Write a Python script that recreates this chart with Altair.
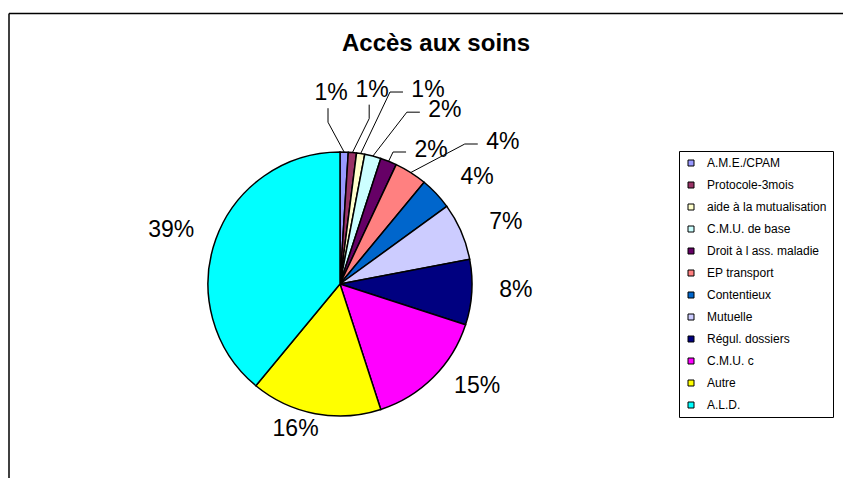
import math
import altair as alt
import pandas as pd

# ---- data ----
categories = ["A.M.E./CPAM", "Protocole-3mois", "aide à la mutualisation", "C.M.U. de base",
              "Droit à l ass. maladie", "EP transport", "Contentieux", "Mutuelle",
              "Régul. dossiers", "C.M.U. c", "Autre", "A.L.D."]
values = [1, 1, 1, 2, 2, 4, 4, 7, 8, 15, 16, 39]

# ---- style / layout ----
colors = ["#9999FF", "#993366", "#FFFFCC", "#CCFFFF", "#660066", "#FF8080",
          "#0066CC", "#CCCCFF", "#000080", "#FF00FF", "#FFFF00", "#00FFFF"]
label_turn = [-4.5, 4.0, 15.4, 16.7, 12.6, 16.5, 5.2, 2.9, -1.6, -8.3, 6.2, -2.2]
label_r = [191, 197, 213, 203, 162, 216, 174, 177, 176, 171, 152, 177]
leader = ["below", "below", "left", "left", "left", "left", "", "", "", "", "", ""]

W, H = 835, 470
CX, CY = 332, 276   # pie centre in plot pixels
R = 132

df = pd.DataFrame({"cat": categories, "val": values, "idx": range(len(values))})
df["label"] = [f"{v}%" for v in values]
cum = df["val"].cumsum()
total = df["val"].sum()
df["mid"] = (cum - df["val"] / 2) / total * 360.0
ang = [math.radians(m + t) for m, t in zip(df["mid"], label_turn)]
df["lx"] = [r * math.sin(a) for r, a in zip(label_r, ang)]
df["ly"] = [r * math.cos(a) for r, a in zip(label_r, ang)]

rows = []
for i, row in df.iterrows():
    style = leader[i]
    if not style:
        continue
    m = math.radians(row["mid"])
    ex, ey = R * math.sin(m), R * math.cos(m)
    if style == "below":
        ax_, ay_ = row["lx"] - 3, row["ly"] - 15
        bx, by = row["lx"] - 3, row["ly"] - 29
    else:
        ax_, ay_ = row["lx"] - 25, row["ly"] - 2
        bx, by = row["lx"] - 38, row["ly"] - 2
    for o, (px, py) in enumerate([(ax_, ay_), (bx, by), (ex, ey)]):
        rows.append({"cat": row["cat"], "o": o, "x": px, "y": py})
lead_df = pd.DataFrame(rows)

xscale = alt.Scale(domain=[-CX, W - CX], nice=False, zero=False)
yscale = alt.Scale(domain=[-(H - CY), CY], nice=False, zero=False)

pie = alt.Chart(df).mark_arc(outerRadius=R, stroke="black", strokeWidth=1.5).encode(
    theta=alt.Theta("val:Q", stack=True),
    order=alt.Order("idx:Q"),
    color=alt.Color("cat:N", scale=alt.Scale(domain=categories, range=colors),
                    sort=categories,
                    legend=alt.Legend(title=None, orient="none", legendX=671, legendY=143,
                                      strokeColor="black", fillColor="white", padding=6,
                                      symbolType="square", symbolSize=36,
                                      symbolStrokeColor="black", symbolStrokeWidth=1,
                                      labelFont="Liberation Sans", labelFontSize=12,
                                      labelColor="black", rowPadding=10, labelOffset=10,
                                      labelLimit=300)),
    x=alt.value(CX), y=alt.value(CY),
)

labels = alt.Chart(df).mark_text(font="Liberation Sans", fontSize=23, color="black",
                                 align="center", baseline="middle").encode(
    x=alt.X("lx:Q", scale=xscale, axis=None),
    y=alt.Y("ly:Q", scale=yscale, axis=None),
    text="label:N",
)

leaders = alt.Chart(lead_df).mark_line(color="black", strokeWidth=1).encode(
    x=alt.X("x:Q", scale=xscale, axis=None),
    y=alt.Y("y:Q", scale=yscale, axis=None),
    detail="cat:N",
    order="o:Q",
)

title = alt.Chart(pd.DataFrame({"t": ["Accès aux soins"]})).mark_text(
    font="Liberation Sans", fontSize=24, fontWeight="bold", color="black",
    align="center", baseline="middle").encode(
    text="t:N", x=alt.value(428), y=alt.value(36))

one = pd.DataFrame({"a": [0]})
frame_top = alt.Chart(one).mark_rule(color="black", strokeWidth=1.5).encode(
    x=alt.value(1), x2=alt.value(W + 10), y=alt.value(5.5))
frame_left = alt.Chart(one).mark_rule(color="black", strokeWidth=1.5).encode(
    x=alt.value(1), y=alt.value(5.5), y2=alt.value(H + 10))

chart = alt.layer(frame_top, frame_left, leaders, pie, labels, title).properties(
    width=W, height=H, padding=0,
    autosize=alt.AutoSizeParams(type="none"),
).configure_view(strokeWidth=0).resolve_scale(color="independent")

chart.save("out.html", embed_options={"renderer": "svg", "actions": False})
